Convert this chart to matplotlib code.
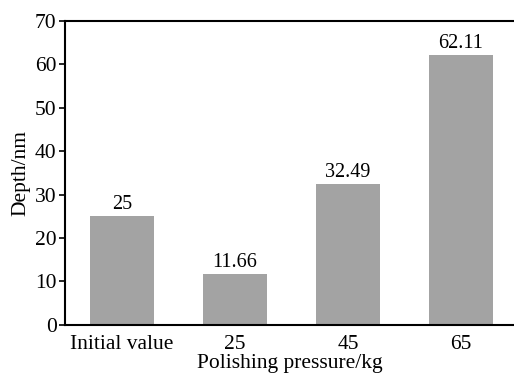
import matplotlib
matplotlib.use("Agg")
import matplotlib.pyplot as plt

categories = ["Initial value", "25", "45", "65"]
depths = [25, 11.66, 32.49, 62.11]
labels = ["25", "11.66", "32.49", "62.11"]

plt.rcParams['font.family'] = ['Liberation Serif', 'DejaVu Serif']

fig = plt.figure(figsize=(5.14, 3.76), dpi=100)
ax = fig.add_axes([0.1265, 0.136, 0.8735, 0.808])
x = range(len(categories))
ax.bar(x, depths, width=0.57, color='#a3a3a3', edgecolor='none')
for xi, v, t in zip(x, depths, labels):
    ax.text(xi, v + 0.5, t, ha='center', va='bottom', fontsize=14.5)

ax.set_xlim(-0.504, 3.47)
ax.set_ylim(0, 70)
ax.set_yticks(range(0, 71, 10))
ax.set_xticks(list(x))
ax.set_xticklabels(categories)
ax.tick_params(axis='both', labelsize=15.5)
ax.tick_params(axis='y', direction='out', length=4, width=1.2, pad=2)
ax.tick_params(axis='x', length=0, pad=7)
for s in ['left', 'bottom', 'top']:
    ax.spines[s].set_linewidth(1.5)
ax.spines['right'].set_visible(False)
ax.set_ylabel("Depth/nm", fontsize=15.5, labelpad=3)
ax.set_xlabel("Polishing pressure/kg", fontsize=15.5, labelpad=0)

fig.savefig("out.png", dpi=100)
